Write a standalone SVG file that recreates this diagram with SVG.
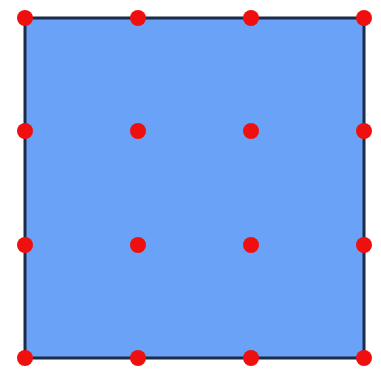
<svg xmlns="http://www.w3.org/2000/svg" width="381" height="377" viewBox="0 0 381 377">
<style>
.sq{fill:#6aa2f7;stroke:#1b2b48;stroke-width:3}
.pt{fill:#f00f0f}
</style>
<rect width="381" height="377" fill="#ffffff"/>
<g id="square"><rect class="sq" x="25" y="18" width="339" height="340"/></g>
<g id="points">
<circle class="pt" cx="25" cy="18" r="8"/><circle class="pt" cx="138" cy="18" r="8"/><circle class="pt" cx="251" cy="18" r="8"/><circle class="pt" cx="364" cy="18" r="8"/>
<circle class="pt" cx="25" cy="131" r="8"/><circle class="pt" cx="138" cy="131" r="8"/><circle class="pt" cx="251" cy="131" r="8"/><circle class="pt" cx="364" cy="131" r="8"/>
<circle class="pt" cx="25" cy="245" r="8"/><circle class="pt" cx="138" cy="245" r="8"/><circle class="pt" cx="251" cy="245" r="8"/><circle class="pt" cx="364" cy="245" r="8"/>
<circle class="pt" cx="25" cy="358" r="8"/><circle class="pt" cx="138" cy="358" r="8"/><circle class="pt" cx="251" cy="358" r="8"/><circle class="pt" cx="364" cy="358" r="8"/>
</g>
</svg>
